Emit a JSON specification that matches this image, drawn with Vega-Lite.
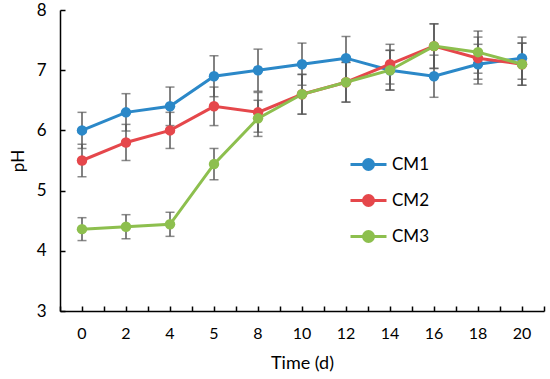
{
  "$schema": "https://vega.github.io/schema/vega-lite/v6.json",
  "width": 484,
  "height": 301,
  "autosize": "none",
  "padding": {"left": 60, "top": 10, "right": 6, "bottom": 68},
  "background": "white",
  "config": {
    "view": {"stroke": null},
    "font": "Lato",
    "axis": {"domainColor": "black", "domainWidth": 1.5, "tickColor": "black", "tickWidth": 1.5, "labelColor": "black", "titleColor": "black", "grid": false, "labelFont": "Lato", "titleFont": "Lato", "titleFontWeight": "normal"}
  },
  "data": {
    "values": [
      {"t": 0, "series": "CM1", "pH": 6.0, "lo": 5.7, "hi": 6.3},
      {"t": 2, "series": "CM1", "pH": 6.3, "lo": 5.99, "hi": 6.61},
      {"t": 4, "series": "CM1", "pH": 6.4, "lo": 6.08, "hi": 6.72},
      {"t": 5, "series": "CM1", "pH": 6.9, "lo": 6.56, "hi": 7.24},
      {"t": 8, "series": "CM1", "pH": 7.0, "lo": 6.65, "hi": 7.35},
      {"t": 10, "series": "CM1", "pH": 7.1, "lo": 6.75, "hi": 7.45},
      {"t": 12, "series": "CM1", "pH": 7.2, "lo": 6.84, "hi": 7.56},
      {"t": 14, "series": "CM1", "pH": 7.0, "lo": 6.67, "hi": 7.33},
      {"t": 16, "series": "CM1", "pH": 6.9, "lo": 6.55, "hi": 7.25},
      {"t": 18, "series": "CM1", "pH": 7.1, "lo": 6.77, "hi": 7.43},
      {"t": 20, "series": "CM1", "pH": 7.2, "lo": 6.85, "hi": 7.55},
      {"t": 0, "series": "CM2", "pH": 5.5, "lo": 5.23, "hi": 5.77},
      {"t": 2, "series": "CM2", "pH": 5.8, "lo": 5.5, "hi": 6.1},
      {"t": 4, "series": "CM2", "pH": 6.0, "lo": 5.7, "hi": 6.3},
      {"t": 5, "series": "CM2", "pH": 6.4, "lo": 6.08, "hi": 6.72},
      {"t": 8, "series": "CM2", "pH": 6.3, "lo": 5.97, "hi": 6.63},
      {"t": 10, "series": "CM2", "pH": 6.6, "lo": 6.27, "hi": 6.93},
      {"t": 12, "series": "CM2", "pH": 6.8, "lo": 6.47, "hi": 7.13},
      {"t": 14, "series": "CM2", "pH": 7.1, "lo": 6.77, "hi": 7.43},
      {"t": 16, "series": "CM2", "pH": 7.4, "lo": 7.03, "hi": 7.77},
      {"t": 18, "series": "CM2", "pH": 7.2, "lo": 6.85, "hi": 7.55},
      {"t": 20, "series": "CM2", "pH": 7.1, "lo": 6.75, "hi": 7.45},
      {"t": 0, "series": "CM3", "pH": 4.36, "lo": 4.17, "hi": 4.55},
      {"t": 2, "series": "CM3", "pH": 4.4, "lo": 4.2, "hi": 4.6},
      {"t": 4, "series": "CM3", "pH": 4.44, "lo": 4.24, "hi": 4.64},
      {"t": 5, "series": "CM3", "pH": 5.44, "lo": 5.18, "hi": 5.7},
      {"t": 8, "series": "CM3", "pH": 6.2, "lo": 5.9, "hi": 6.5},
      {"t": 10, "series": "CM3", "pH": 6.6, "lo": 6.27, "hi": 6.93},
      {"t": 12, "series": "CM3", "pH": 6.8, "lo": 6.47, "hi": 7.13},
      {"t": 14, "series": "CM3", "pH": 7.0, "lo": 6.67, "hi": 7.33},
      {"t": 16, "series": "CM3", "pH": 7.4, "lo": 7.03, "hi": 7.77},
      {"t": 18, "series": "CM3", "pH": 7.3, "lo": 6.95, "hi": 7.65},
      {"t": 20, "series": "CM3", "pH": 7.1, "lo": 6.75, "hi": 7.45}
    ]
  },
  "layer": [
    {
      "mark": {"type": "rule", "color": "#595959", "strokeWidth": 1.5},
      "encoding": {
        "x": {"field": "t", "type": "ordinal", "scale": {"paddingInner": 0, "paddingOuter": 0}, "axis": {"orient": "bottom", "tickBand": "extent", "labels": false, "domain": true, "tickSize": -5, "title": null}},
        "y": {"field": "lo", "type": "quantitative", "scale": {"domain": [3, 8], "nice": false, "zero": false},
              "axis": {"values": [3, 3.5, 4, 4.5, 5, 5.5, 6, 6.5, 7, 7.5, 8], "labelExpr": "datum.value % 1 === 0 ? format(datum.value, 'd') : ''", "tickSize": -5, "labelFontSize": 17, "labelPadding": 19, "title": "pH", "titleFontSize": 17, "titlePadding": 9}},
        "y2": {"field": "hi"}
      }
    },
    {
      "mark": {"type": "tick", "color": "#595959", "thickness": 1.5, "size": 9},
      "encoding": {"x": {"field": "t", "type": "ordinal", "axis": null}, "y": {"field": "lo", "type": "quantitative"}}
    },
    {
      "mark": {"type": "tick", "color": "#595959", "thickness": 1.5, "size": 9},
      "encoding": {"x": {"field": "t", "type": "ordinal", "axis": null}, "y": {"field": "hi", "type": "quantitative"}}
    },
    {
      "mark": {"type": "line", "strokeWidth": 3},
      "encoding": {
        "x": {"field": "t", "type": "ordinal", "axis": {"orient": "bottom", "tickBand": "center", "domain": false, "tickSize": -5, "labelAngle": 0, "labelFontSize": 16, "labelPadding": 19, "title": "Time (d)", "titleFontSize": 18, "titlePadding": 13}},
        "y": {"field": "pH", "type": "quantitative"},
        "color": {"field": "series", "type": "nominal",
                  "scale": {"domain": ["CM1", "CM2", "CM3"], "range": ["#2b88c8", "#e5474b", "#8dbf4e"]},
                  "legend": {"orient": "none", "legendX": 297, "legendY": 143, "title": null, "symbolType": "M-1.8,0H1.8M-0.5,0A0.5,0.5 0 1,1 0.5,0A0.5,0.5 0 1,1 -0.5,0Z", "symbolSize": 400, "symbolStrokeWidth": 3, "labelFontSize": 17, "labelFont": "Lato", "labelColor": "black", "rowPadding": 13, "labelOffset": 12}}
      }
    },
    {
      "mark": {"type": "point", "filled": true, "size": 110, "opacity": 1},
      "encoding": {
        "x": {"field": "t", "type": "ordinal", "axis": null},
        "y": {"field": "pH", "type": "quantitative"},
        "color": {"field": "series", "type": "nominal"}
      }
    }
  ],
  "resolve": {"axis": {"x": "independent"}}
}
